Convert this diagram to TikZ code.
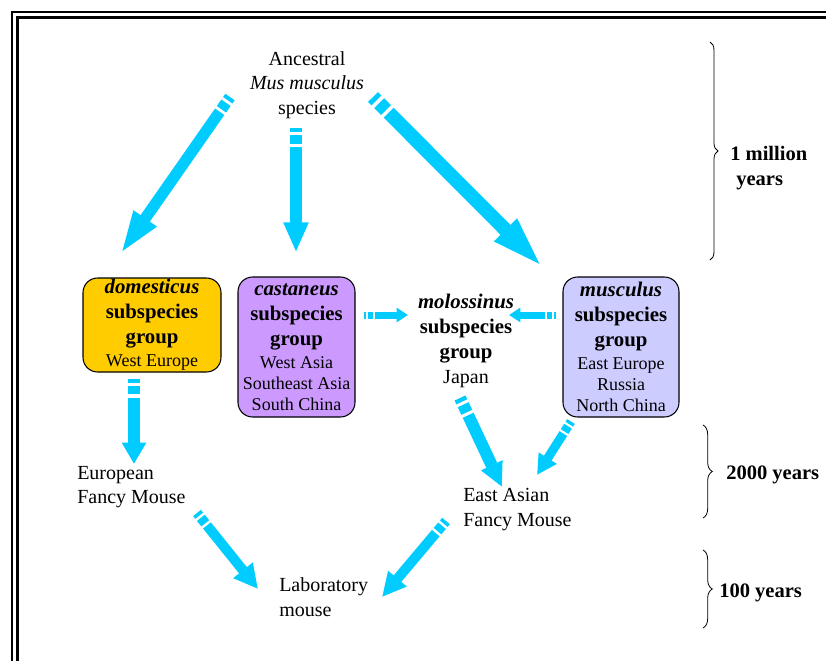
\documentclass[tikz,border=0pt]{standalone}
\usepackage{fontspec}
\setmainfont{Liberation Serif}
\usetikzlibrary{arrows.meta, calc, decorations.pathreplacing}

\definecolor{arrowcyan}{HTML}{00CCFF}
\definecolor{domfill}{HTML}{FFCC00}
\definecolor{castfill}{HTML}{CC99FF}
\definecolor{muscfill}{HTML}{CCCCFF}
\newcommand{\regiontxt}{\fontsize{13.5}{15.75}\selectfont}
\newcommand{\grouptxt}{\fontsize{15.6}{18.75}\selectfont\bfseries}

\begin{document}
\begin{tikzpicture}[
    x=0.75pt, y=-0.75pt,
    groupbox/.style={rectangle, draw, rounded corners=11pt, line width=0.8pt, inner sep=0pt, align=center, font=\fontsize{15}{18.75}\selectfont},
    plain/.style={inner sep=0pt, align=center, font=\fontsize{15}{18.4}\selectfont},
    pedigree/.code n args={3}{%
        \pgfmathsetlengthmacro\stripeon{0.35*#1}%
        \pgfmathsetlengthmacro\stripegap{0.27*#1}%
        \pgfmathsetlengthmacro\stripetwo{0.7*#1}%
        \tikzset{color=arrowcyan, line width=#1, -{Triangle[length=#2, width=#3]},
            dash pattern=on \stripeon off \stripegap on \stripetwo off \stripegap on 2000pt off 1pt}},
    timespan/.style={decorate, decoration={brace, amplitude=6pt}, line width=0.6pt},
    timelabel/.style={inner sep=0pt, anchor=west, align=left, font=\fontsize{15.4}{18.75}\selectfont\bfseries}
]
    \useasboundingbox (0,0) rectangle (826,661);
    \clip (0,0) rectangle (826,661);

    % frame
    \draw[line width=1.7pt] (12,12) rectangle (860,700);
    \draw[line width=2.7pt] (17.5,17.5) rectangle (860,700);

    % ancestor
    \node[plain] (anc) at (307,85) {Ancestral\\ \textit{Mus musculus}\\ species};

    % subspecies groups
    \node[groupbox, fill=domfill, minimum width=103.5pt, minimum height=70.5pt] (dom) at (152,325)
        {{\grouptxt\itshape domesticus}\\ {\grouptxt subspecies}\\ {\grouptxt group}\\[-1.5pt] {\regiontxt West Europe}};
    \node[groupbox, fill=castfill, minimum width=87.75pt, minimum height=105pt] (cas) at (296.5,347)
        {{\grouptxt\itshape castaneus}\\ {\grouptxt subspecies}\\ {\grouptxt group}\\[-1.5pt] {\regiontxt West Asia}\\[-3pt] {\regiontxt Southeast Asia}\\[-3pt] {\regiontxt South China}};
    \node[plain, font=\fontsize{15}{18.75}\selectfont] (mol) at (466,341)
        {{\grouptxt\itshape molossinus}\\ {\grouptxt subspecies}\\ {\grouptxt group}\\ Japan};
    \node[groupbox, fill=muscfill, minimum width=87pt, minimum height=105pt] (mus) at (621,347)
        {{\grouptxt\itshape musculus}\\ {\grouptxt subspecies}\\ {\grouptxt group}\\[-1.5pt] {\regiontxt East Europe}\\[-3pt] {\regiontxt Russia}\\[-3pt] {\regiontxt North China}};

    % fancy mice and lab mouse
    \node[plain, align=left, anchor=west] (euro) at (77,487) {European\\ Fancy Mouse};
    \node[plain, align=left, anchor=west] (east) at (463,509.5) {East Asian\\ Fancy Mouse};
    \node[plain, align=left, anchor=west] (lab) at (279,597) {Laboratory\\ mouse};

    % arrows
    \draw[pedigree={8.5pt}{33pt}{18.5pt}] ($(anc.center)+(-77,12)$) -- ($(dom.north)+(-32,-23)$);
    \draw[pedigree={9pt}{22.5pt}{17.25pt}] ($(anc.center)+(-11,43)$) -- ($(cas.north)+(-0.5,-24)$);
    \draw[pedigree={10.5pt}{42pt}{20.5pt}] ($(anc.center)+(66,12)$) -- ($(mus.north)+(-76,-7)$);
    \draw[pedigree={5.25pt}{8.5pt}{10.5pt}] ($(cas.east)+(8,-32)$) -- ($(mol.center)+(-58,-26)$);
    \draw[pedigree={5.25pt}{8.5pt}{10.5pt}] ($(mus.west)+(-6,-32)$) -- ($(mol.center)+(43,-26)$);
    \draw[pedigree={9pt}{16pt}{17.25pt}] ($(dom.south)+(-18,6)$) -- ($(euro.west)+(57,-23)$);
    \draw[pedigree={9pt}{18pt}{16.5pt}] ($(mol.center)+(-6,57)$) -- ($(east.west)+(39,-22.5)$);
    \draw[pedigree={6.75pt}{15pt}{15pt}] ($(mus.south)+(-50,4)$) -- ($(east.west)+(74,-34.5)$);
    \draw[pedigree={7.5pt}{18pt}{17.5pt}] ($(euro.west)+(120,26)$) -- ($(lab.west)+(-21,-8)$);
    \draw[pedigree={7.5pt}{18pt}{17pt}] ($(east.west)+(-17,11.5)$) -- ($(lab.west)+(103,0)$);

    % time spans
    \draw[timespan] (710,42) -- (710,260);
    \node[timelabel] (million) at (730,168) {1 million\\\hspace{4.5pt}years};
    \draw[timespan, decoration={amplitude=7pt}] (703,425) -- (703,518);
    \node[timelabel] (twothousand) at (726,475) {2000 years};
    \draw[timespan, decoration={amplitude=7pt}] (703,550) -- (703,628);
    \node[timelabel] (hundred) at (719,593) {100 years};
\end{tikzpicture}
\end{document}
